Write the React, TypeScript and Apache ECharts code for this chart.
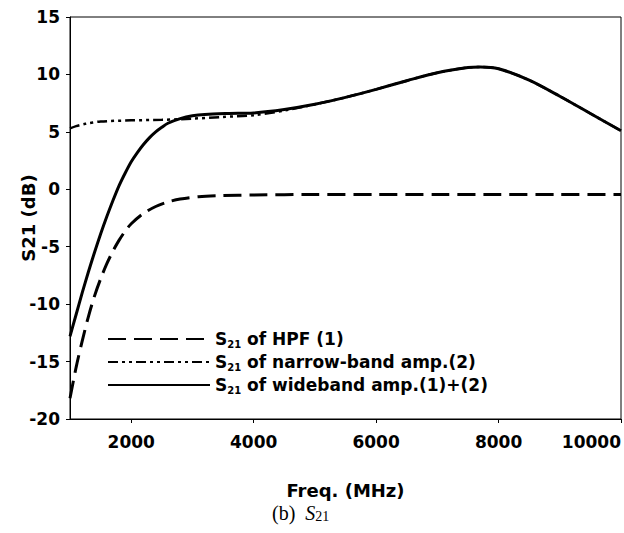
import React, { useEffect, useRef } from 'react';
import * as echarts from 'echarts';

// ---- data ----
const xTickValues = [2000, 4000, 6000, 8000, 10000];

const hpfFreq = [1000, 1100, 1200, 1300, 1400, 1500, 1600, 1700, 1800, 1900, 2000, 2200, 2400, 2600, 2800, 3100, 3500, 4000, 5000, 6000, 7000, 8000, 9000, 10000];
const hpfS21 = [-18.2, -15.5, -13.2, -11.1, -9.3, -7.8, -6.5, -5.4, -4.45, -3.65, -3.0, -2.1, -1.5, -1.1, -0.85, -0.65, -0.55, -0.5, -0.45, -0.45, -0.45, -0.45, -0.45, -0.45];

const narrowFreq = [1000, 1100, 1250, 1500, 2000, 2500, 3000, 3500, 4000, 4500, 5000, 5500, 6000, 6500, 7000, 7500, 7700, 8000, 8500, 9000, 9500, 10000];
const narrowS21 = [5.3, 5.5, 5.7, 5.9, 6.0, 6.05, 6.15, 6.3, 6.45, 6.85, 7.4, 8.0, 8.7, 9.45, 10.15, 10.6, 10.65, 10.5, 9.5, 8.1, 6.6, 5.1];

const wideFreq = [1000, 1100, 1200, 1300, 1400, 1500, 1600, 1700, 1800, 1900, 2000, 2100, 2200, 2300, 2400, 2500, 2600, 2800, 3000, 3200, 3600, 4000, 4500, 5000, 5500, 6000, 6500, 7000, 7500, 7700, 8000, 8500, 9000, 9500, 10000];
const wideS21 = [-12.8, -10.9, -9.0, -7.2, -5.5, -3.9, -2.4, -1.0, 0.3, 1.4, 2.4, 3.2, 3.9, 4.5, 5.0, 5.4, 5.75, 6.15, 6.4, 6.52, 6.6, 6.65, 6.95, 7.4, 8.0, 8.7, 9.45, 10.15, 10.6, 10.65, 10.5, 9.5, 8.1, 6.6, 5.1];

const seriesNames = ['hpf', 'narrow', 'wide'];
const legendTexts: Record<string, string> = {
  hpf: ' of HPF (1)',
  narrow: ' of narrow-band amp.(2)',
  wide: ' of wideband amp.(1)+(2)',
};

const zip = (xs: number[], ys: number[]) => xs.map((x, i) => [x, ys[i]]);

const FONT = 'DejaVu Sans';

export default function App() {
  const ref = useRef<HTMLDivElement>(null);
  useEffect(() => {
    const chart = echarts.init(ref.current!, null, { renderer: 'svg' });
    chart.setOption({
      animation: false,
      backgroundColor: '#fff',
      title: {
        text: '(b)  {i|S}{s|21}',
        left: 272,
        top: 503,
        padding: 0,
        textStyle: {
          fontFamily: 'Liberation Serif',
          fontSize: 20,
          fontWeight: 'normal',
          color: '#000',
          rich: {
            i: { fontFamily: 'Liberation Serif', fontSize: 20, fontStyle: 'italic', color: '#000' },
            s: { fontFamily: 'Liberation Serif', fontSize: 14, color: '#000', verticalAlign: 'bottom' },
          },
        },
      },
      grid: {
        left: 70,
        right: 1,
        top: 17,
        bottom: 114,
        show: true,
        borderColor: '#000',
        borderWidth: 1,
      },
      legend: {
        show: true,
        orient: 'vertical',
        left: 107,
        top: 329,
        itemWidth: 102,
        itemHeight: 20,
        itemGap: 3,
        padding: 0,
        data: seriesNames,
        lineStyle: { width: 2 },
        itemStyle: { opacity: 0, borderWidth: 0 },
        formatter: (name: string) => `{b|S}{s|21}{b|${legendTexts[name]}}`,
        textStyle: {
          fontFamily: FONT,
          fontWeight: 'bold',
          fontSize: 17,
          color: '#000',
          lineHeight: 20,
          rich: {
            b: { fontFamily: FONT, fontWeight: 'bold', fontSize: 17, color: '#000', lineHeight: 20 },
            s: { fontFamily: FONT, fontWeight: 'bold', fontSize: 10, color: '#000', verticalAlign: 'bottom', lineHeight: 14 },
          },
        },
      },
      xAxis: {
        type: 'value',
        min: 1000,
        max: 10000,
        name: 'Freq. (MHz)',
        nameLocation: 'middle',
        nameGap: 62,
        nameMoveOverlap: false,
        nameTextStyle: { fontFamily: FONT, fontWeight: 'bold', fontSize: 18, color: '#000' },
        axisLine: { show: true, onZero: false, lineStyle: { color: '#000', width: 1 } },
        axisTick: { show: true, inside: false, length: 4, customValues: xTickValues, lineStyle: { color: '#000' } },
        axisLabel: {
          customValues: xTickValues,
          formatter: (v: number) => String(v),
          margin: 14,
          fontFamily: FONT,
          fontWeight: 'bold',
          fontSize: 17,
          color: '#000',
          alignMaxLabel: 'right',
        },
        splitLine: { show: false },
      },
      yAxis: {
        type: 'value',
        min: -20,
        max: 15,
        interval: 5,
        name: 'S21 (dB)',
        nameLocation: 'middle',
        nameGap: 33,
        nameMoveOverlap: false,
        nameRotate: 90,
        nameTextStyle: { fontFamily: FONT, fontWeight: 'bold', fontSize: 18, color: '#000' },
        axisLine: { show: true, onZero: false, lineStyle: { color: '#000', width: 1 } },
        axisTick: { show: true, inside: false, length: 4, lineStyle: { color: '#000' } },
        axisLabel: { margin: 10, fontFamily: FONT, fontWeight: 'bold', fontSize: 17, color: '#000' },
        splitLine: { show: false },
      },
      series: [
        {
          name: 'hpf',
          type: 'line',
          data: zip(hpfFreq, hpfS21),
          smooth: 0.3,
          showSymbol: false,
          symbol: 'none',
          lineStyle: { color: '#000', width: 3, type: [18, 8] },
          itemStyle: { color: '#000' },
        },
        {
          name: 'narrow',
          type: 'line',
          data: zip(narrowFreq, narrowS21),
          smooth: 0.3,
          showSymbol: false,
          symbol: 'none',
          lineStyle: { color: '#000', width: 2.5, type: [10, 4, 3, 4, 3, 4] },
          itemStyle: { color: '#000' },
        },
        {
          name: 'wide',
          type: 'line',
          data: zip(wideFreq, wideS21),
          smooth: 0.3,
          showSymbol: false,
          symbol: 'none',
          lineStyle: { color: '#000', width: 3, type: 'solid' },
          itemStyle: { color: '#000' },
        },
      ],
    });
    return () => chart.dispose();
  }, []);
  return (
    <div
      ref={ref}
      style={{ position: 'absolute', left: 0, top: 0, width: 624, height: 533, background: '#fff' }}
    />
  );
}
